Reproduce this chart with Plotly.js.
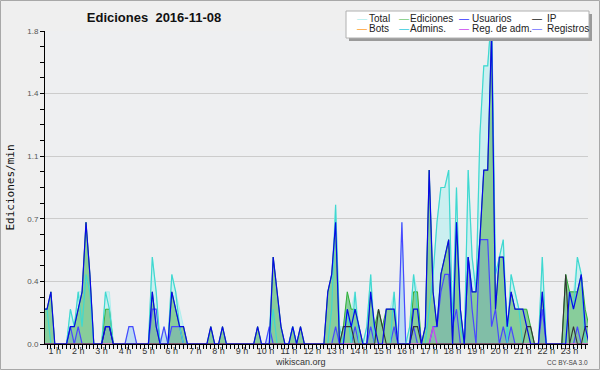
<!DOCTYPE html>
<html><head><meta charset="utf-8">
<script src="https://cdn.plot.ly/plotly-3.0.1.min.js"></script>
<style>html,body{margin:0;padding:0;background:#efefef;} #chart{width:600px;height:370px;}</style>
</head><body><div id="chart"></div>
<script>
// 10-minute bins, values in edits/min
const total = [
 .2,.2,.3,0,0,0,0,.2,.1,.3,
 .3,.7,.4,0,0,0,.3,.3,0,0,
 0,0,.1,.1,0,0,0,0,.5,.3,
 0,.1,0,.4,.3,.2,.1,0,0,0,
 0,0,0,.1,0,0,.1,0,0,0,
 0,0,0,0,0,.1,0,0,.1,.5,
 .3,.1,0,0,.1,0,.1,0,0,0,
 0,0,0,.3,.4,.8,.1,.1,.3,.2,
 .3,.1,0,.1,.4,.1,.2,.1,.2,.2,
 .3,0,.7,0,.1,.4,.3,0,.1,1.0,
 .4,.7,.9,.9,1.0,.1,.9,.2,0,1.0,
 .5,.3,1.2,1.6,1.6,1.9,.4,.5,.6,.1,
 .4,.3,.2,.2,.2,.1,0,0,.5,0,
 0,0,0,0,.4,.3,.3,.5,.4,.2,.1];
const ediciones = [
 .2,.2,.3,0,0,0,0,.1,.1,.2,
 .3,.7,.4,0,0,0,.2,.2,0,0,
 0,0,0,0,0,0,0,0,.3,.1,
 0,0,0,.3,.2,.1,.1,0,0,0,
 0,0,0,.1,0,0,.1,0,0,0,
 0,0,0,0,0,.1,0,0,0,.5,
 .3,.1,0,0,.1,0,.1,0,0,0,
 0,0,0,.3,.4,.7,0,.1,.3,.2,
 .2,.1,0,0,.3,.1,.2,.1,.2,.2,
 .2,0,0,0,0,.3,.3,0,.1,1.0,
 .3,.1,.4,.5,.6,0,.7,.2,0,.5,
 .3,.3,.6,1.0,1.0,1.8,.2,.5,.5,.1,
 .3,.2,.2,.2,.2,.1,0,0,.3,0,
 0,0,0,0,.4,.3,.3,.3,.4,.2,.1];
const usuarios = [
 .2,.2,.3,0,0,0,0,.1,.1,.2,
 .3,.7,.4,0,0,0,.1,.1,0,0,
 0,0,0,0,0,0,0,0,.3,.1,
 0,0,0,.3,.2,.1,.1,0,0,0,
 0,0,0,.1,0,0,.1,0,0,0,
 0,0,0,0,0,.1,0,0,0,.5,
 .3,.1,0,0,.1,0,.1,0,0,0,
 0,0,0,.3,.4,.7,0,0,.2,.1,
 .2,.1,0,0,.3,.1,0,0,.2,.2,
 .2,0,0,0,0,.2,.2,0,.1,1.0,
 .3,.1,.4,.5,.6,0,.7,.2,0,.5,
 .3,.3,.6,1.0,1.0,1.8,.2,.5,.5,.1,
 .3,.2,.2,.2,.1,0,0,0,.3,0,
 0,0,0,0,0,.3,.2,.3,.4,.1,0];
const ip = [
 0,0,0,0,0,0,0,0,0,0,
 0,0,0,0,0,0,.1,.1,0,0,
 0,0,0,0,0,0,0,0,0,0,
 0,0,0,0,0,0,0,0,0,0,
 0,0,0,0,0,0,0,0,0,0,
 0,0,0,0,0,0,0,0,0,0,
 0,0,0,0,0,0,0,0,0,0,
 0,0,0,0,0,0,0,.1,.1,.1,
 0,0,0,0,0,0,.2,.1,0,0,
 0,0,0,0,0,.1,.1,0,0,0,
 0,0,0,0,0,0,0,0,0,0,
 0,0,0,0,0,0,0,0,0,0,
 0,0,0,0,.1,.1,0,0,0,0,
 0,0,0,0,.4,0,.1,0,0,.1,.1];
const bots = [
 0,0,0,0,0,0,0,0,0,0, 0,0,0,0,0,0,0,0,0,0,
 0,0,0,0,0,0,0,0,0,0, 0,0,0,0,0,0,0,0,0,0,
 0,0,0,0,0,0,0,0,0,0, 0,0,0,0,0,0,0,0,0,0,
 0,0,0,0,0,0,0,0,0,0, 0,0,0,0,0,0,0,0,0,0,
 0,0,0,0,0,0,0,0,0,0, 0,0,0,0,0,0,0,0,0,0,
 0,0,0,0,0,0,0,0,0,0, 0,0,0,0,0,0,0,0,0,0,
 0,0,0,0,0,0,0,0,0,0, 0,0,0,0,0,0,0,0,0,0,
 0];
const admins = [
 .2,.2,0,0,0,0,0,.2,.1,.3,
 .1,.4,.3,0,0,0,.3,.2,0,0,
 0,0,0,0,0,0,0,0,.5,.3,
 0,0,0,.4,.3,.1,0,0,0,0,
 0,0,0,0,0,0,0,0,0,0,
 0,0,0,0,0,0,0,0,0,.2,
 0,0,0,0,.1,0,0,0,0,0,
 0,0,0,0,.2,.8,.1,0,.2,0,
 .3,0,0,.1,.4,0,0,0,0,0,
 .3,0,0,0,.1,.4,.2,0,0,.2,
 .4,.7,.9,.9,1.0,.1,.9,.1,0,1.0,
 .5,.3,1.2,1.6,1.6,1.9,.4,.5,.6,0,
 .4,.3,.2,0,0,0,0,0,.5,0,
 0,0,0,0,0,.3,.2,.5,.4,0,0];
const regAdm = [
 0,0,0,0,0,0,0,0,0,0, 0,0,0,0,0,0,0,0,0,0,
 0,0,0,0,0,0,0,0,0,0, 0,0,0,0,0,0,0,0,0,0,
 0,0,0,0,0,0,0,0,0,0, 0,0,0,0,0,0,0,0,0,0,
 0,0,0,0,0,0,0,0,0,0, 0,0,0,0,0,0,0,0,0,0,
 0,0,0,0,0,0,0,0,0,0, 0,0,0,0,0,0,0,0,0,0,
 .1,0,0,0,0,0,0,0,0,0, 0,0,0,0,0,0,0,0,0,0,
 0,0,0,0,0,0,0,0,0,0, 0,0,0,0,0,0,0,0,0,0,
 0];
const registros = [
 0,0,0,0,0,0,0,.1,0,.1,
 0,0,0,0,0,0,.1,.1,0,0,
 0,0,.1,.1,0,0,0,0,.2,.2,
 0,.1,0,.1,.1,.1,0,0,0,0,
 0,0,0,0,0,0,0,0,0,0,
 0,0,0,0,0,0,0,0,.1,0,
 0,0,0,0,0,0,0,0,0,0,
 0,0,0,0,0,.1,0,0,0,0,
 .1,0,0,0,.1,0,0,0,0,0,
 .1,0,.7,0,0,.1,0,0,0,0,
 .1,.1,.3,.4,.4,.1,.2,0,0,.5,
 .2,0,.6,.6,.6,.1,.2,0,.1,0,
 .1,0,0,0,0,0,0,0,.2,0,
 0,0,0,0,0,0,0,.1,0,0,0];
const hourLabels = ['1 h','2 h','3 h','4 h','5 h','6 h','7 h','8 h','9 h','10 h','11 h','12 h',
  '13 h','14 h','15 h','16 h','17 h','18 h','19 h','20 h','21 h','22 h','23 h'];
const yTickValues = [0, 0.36, 0.72, 1.08, 1.44, 1.8];
const yTickLabels = ['0.0','0.4','0.7','1.1','1.4','1.8'];
const legendNames = ['Total','Ediciones','Usuarios','IP','Bots','Admins.','Reg. de adm.','Registros'];
const legendColors = ['#aeeeee','#77cc77','#3333ff','#222222','#ffa030','#33ccdd','#cc44ee','#7070ff'];

const xs = total.map((_, i) => i);
const line = (y, color, width, extra) => Object.assign({x: xs, y: y, type: 'scatter', mode: 'lines',
  line: {color: color, width: width}, showlegend: false, hoverinfo: 'skip'}, extra || {});

const traces = [
  line(total, '#aeeeee', 1, {fill: 'tozeroy', fillcolor: 'rgba(175,238,238,0.55)'}),
  line(ediciones, '#33b033', 1, {fill: 'tozeroy', fillcolor: 'rgba(105,188,115,0.68)'}),
  line(registros, '#4848ff', 1.2, {fill: 'tozeroy', fillcolor: 'rgba(80,80,255,0.12)'}),
  line(admins, '#40d8d0', 1.2),
  line(bots, '#ffa030', 1),
  line(regAdm, '#cc44ee', 1.2),
  line(ip, '#333333', 1.1),
  line(usuarios, '#0808e8', 1.2)
];

const L = 45, R = 588, TOP = 31, BOT = 344;
const px2x = px => (px - L) / (R - L);
const py2y = py => (BOT - py) / (BOT - TOP);

const annotations = [];
const sampleX = [355, 397, 457, 530];
const textX = [367, 408, 470, 545];
const rowY = [19, 29];
legendNames.forEach((name, k) => {
  const c = k % 4, r = Math.floor(k / 4);
  annotations.push({xref: 'paper', yref: 'paper', x: px2x(sampleX[c]), y: py2y(rowY[r]), xanchor: 'left', yanchor: 'middle',
    text: '—', showarrow: false, font: {family: 'Liberation Sans', size: 10, color: legendColors[k]}});
  annotations.push({xref: 'paper', yref: 'paper', x: px2x(textX[c]), y: py2y(rowY[r]), xanchor: 'left', yanchor: 'middle',
    text: name, showarrow: false, font: {family: 'Liberation Sans', size: 10, color: '#222'}});
});
annotations.push({xref: 'paper', yref: 'paper', x: px2x(300), y: py2y(362), xanchor: 'center', yanchor: 'middle',
  text: 'wikiscan.org', showarrow: false, font: {family: 'Liberation Sans', size: 9, color: '#333'}});
annotations.push({xref: 'paper', yref: 'paper', x: px2x(590), y: py2y(362), xanchor: 'right', yanchor: 'middle',
  text: 'CC BY-SA 3.0', showarrow: false, font: {family: 'Liberation Sans', size: 6.5, color: '#444'}});

const shapes = [
  {type: 'rect', xref: 'paper', yref: 'paper', x0: px2x(349), x1: px2x(592), y0: py2y(14), y1: py2y(41),
   fillcolor: '#9a9a9a', line: {width: 0}, layer: 'above'},
  {type: 'rect', xref: 'paper', yref: 'paper', x0: px2x(346), x1: px2x(589), y0: py2y(11), y1: py2y(38),
   fillcolor: '#ffffff', line: {color: '#b0b0b0', width: 1}, layer: 'above'},
  {type: 'rect', xref: 'paper', yref: 'paper', x0: px2x(0.5), x1: px2x(599.5), y0: py2y(0.5), y1: py2y(369.5),
   fillcolor: 'rgba(0,0,0,0)', line: {color: '#a8a8a8', width: 1}, layer: 'above'}
];

const layout = {
  width: 600, height: 370,
  margin: {l: L, r: 600 - R, t: TOP, b: 370 - BOT, pad: 0},
  paper_bgcolor: '#efefef', plot_bgcolor: '#eeeff1',
  title: {text: 'Ediciones  2016-11-08', x: 154 / 600, xanchor: 'center', y: 1 - 17 / 370, yanchor: 'middle',
    font: {family: 'Liberation Sans', size: 13, weight: 'bold', color: '#111'}},
  xaxis: {range: [0.487, 139.72], tickmode: 'array', tickvals: hourLabels.map((_, h) => 6 * (h + 1) - 3), ticktext: hourLabels,
    showgrid: false, zeroline: false, showline: true, linecolor: '#000', linewidth: 1,
    ticks: 'outside', ticklen: 4, tickcolor: '#000', tickwidth: 1, ticklabelstandoff: -6,
    tickfont: {family: 'Liberation Sans', size: 9, color: '#333'},
    minor: {dtick: 1, tick0: 0, ticks: 'outside', ticklen: 4, tickcolor: '#000', tickwidth: 1, showgrid: false}},
  yaxis: {range: [0, 1.8], tickmode: 'array', tickvals: yTickValues, ticktext: yTickLabels,
    showgrid: true, gridcolor: '#cccccc', gridwidth: 1, zeroline: false, showline: true, linecolor: '#000', linewidth: 1,
    ticks: 'outside', ticklen: 4, tickcolor: '#000', tickwidth: 1,
    tickfont: {family: 'Liberation Sans', size: 8, color: '#555'},
    minor: {dtick: 0.09, tick0: 0, ticks: 'outside', ticklen: 4, tickcolor: '#000', tickwidth: 1, showgrid: false},
    title: {text: 'Ediciones/min', standoff: 10, font: {family: 'DejaVu Sans Mono', size: 11, color: '#111'}}},
  annotations: annotations,
  shapes: shapes,
  showlegend: false
};

Plotly.newPlot('chart', traces, layout, {staticPlot: true});
</script></body></html>
